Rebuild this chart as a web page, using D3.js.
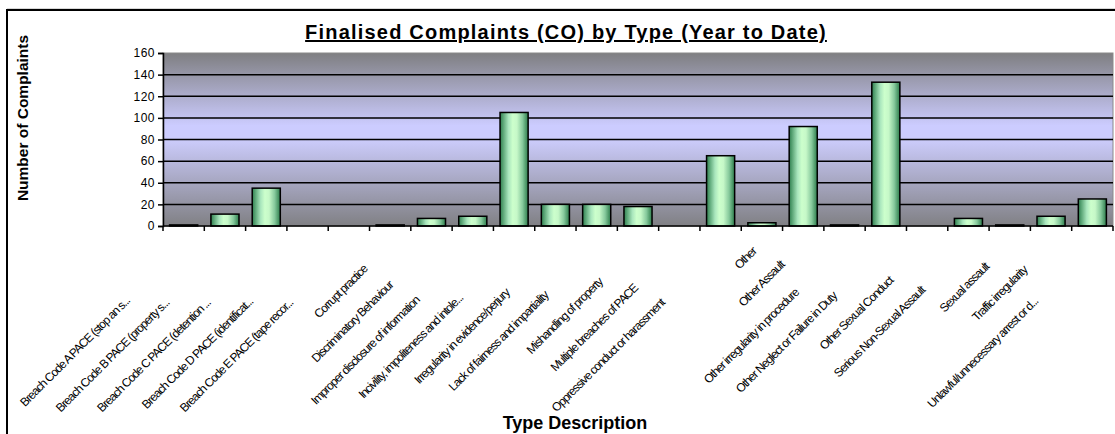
<!DOCTYPE html>
<html>
<head>
<meta charset="utf-8">
<script src="https://cdn.jsdelivr.net/npm/d3@7"></script>
<style>
  html, body { margin: 0; padding: 0; background: #fff; }
  svg { display: block; font-family: "Liberation Sans", Arial, sans-serif; }
</style>
</head>
<body>
<svg id="chart" width="1115" height="434"></svg>
<script>
const categories = [
  "Breach Code A PACE (stop an s...",
  "Breach Code B PACE (property s...",
  "Breach Code C PACE (detention ...",
  "Breach Code D PACE (identificat...",
  "Breach Code E PACE (tape recor...",
  "Corrupt practice",
  "Discriminatory Behaviour",
  "Improper disclosure of information",
  "Incivility, impoliteness and intole...",
  "Irregularity in evidence/perjury",
  "Lack of fairness and impartiality",
  "Mishandling of property",
  "Multiple breaches of PACE",
  "Oppressive conduct or harassment",
  "Other",
  "Other Assault",
  "Other irregularity in procedure",
  "Other Neglect or Failure in Duty",
  "Other Sexual Conduct",
  "Serious Non-Sexual Assault",
  "Sexual assault",
  "Traffic irregularity",
  "Unlawful/unnecessary arrest or d..."
];
const complaints = [1, 11, 35, 0, 0, 1, 7, 9, 105, 20, 20, 18, 0, 65, 3, 92, 1, 133, 0, 7, 1, 9, 25];
const yTicks = [0, 20, 40, 60, 80, 100, 120, 140, 160];
const titleText = "Finalised Complaints (CO) by Type (Year to Date)";
const yTitle = "Number of Complaints";
const xTitle = "Type Description";

const svg = d3.select("#chart");
const plot = { left: 163, right: 1113, top: 53, bottom: 226 };

const x = d3.scaleBand().domain(categories).range([plot.left, plot.right])
  .paddingInner(0.32).paddingOuter(0.16);
const y = d3.scaleLinear().domain([0, 160]).range([plot.bottom, plot.top]);

const defs = svg.append("defs");
const bg = defs.append("linearGradient").attr("id", "bgGrad")
  .attr("x1", 0).attr("y1", 0).attr("x2", 0).attr("y2", 1);
[[0, "#7f7f82"], [0.42, "#ccccff"], [0.5, "#ccccfc"], [1, "#808084"]].forEach(([o, c]) =>
  bg.append("stop").attr("offset", o).attr("stop-color", c));
const bar = defs.append("linearGradient").attr("id", "barGrad")
  .attr("x1", 0).attr("y1", 0).attr("x2", 1).attr("y2", 0);
[[0, "#2f7f4f"], [0.12, "#5fa97a"], [0.3, "#a9e6bd"], [0.45, "#ccffcc"], [0.6, "#c6f8c8"],
 [0.8, "#86c99c"], [0.92, "#4f9a6a"], [1, "#2f7f4f"]].forEach(([o, c]) =>
  bar.append("stop").attr("offset", o).attr("stop-color", c));

// outer chart border
svg.append("line").attr("x1", 7).attr("x2", 1115).attr("y1", 9).attr("y2", 9)
  .attr("stroke", "#b0b0b0").attr("stroke-width", 1);
svg.append("rect").attr("x", 7).attr("y", 10).attr("width", 1120).attr("height", 440)
  .attr("fill", "none").attr("stroke", "#000").attr("stroke-width", 2);

// title
svg.append("text").attr("x", 566).attr("y", 39)
  .attr("text-anchor", "middle").attr("font-size", 20).attr("font-weight", "bold")
  .attr("letter-spacing", 1.2)
  .attr("text-decoration", "underline").text(titleText);

// plot background
svg.append("rect").attr("x", plot.left).attr("y", plot.top)
  .attr("width", plot.right - plot.left).attr("height", plot.bottom - plot.top)
  .attr("fill", "url(#bgGrad)").attr("stroke", "#8a8a8a").attr("stroke-width", 1);

// gridlines
svg.append("g").selectAll("line").data(yTicks.filter(d => d > 0 && d < 160)).join("line")
  .attr("x1", plot.left).attr("x2", plot.right)
  .attr("y1", d => y(d)).attr("y2", d => y(d))
  .attr("stroke", "#000").attr("stroke-width", 1.5);

// bars
svg.append("g").selectAll("rect").data(categories.map((c, i) => ({ c, v: complaints[i] })).filter(d => d.v > 0))
  .join("rect")
  .attr("x", d => x(d.c)).attr("width", x.bandwidth())
  .attr("y", d => y(d.v)).attr("height", d => y(0) - y(d.v))
  .attr("fill", "url(#barGrad)").attr("stroke", "#000").attr("stroke-width", 1.5);

// y axis
const yAxis = svg.append("g").attr("transform", `translate(${plot.left},0)`)
  .call(d3.axisLeft(y).tickValues(yTicks).tickSize(5).tickPadding(3));
yAxis.select(".domain").attr("stroke-width", 1.5);
yAxis.selectAll(".tick line").attr("stroke-width", 1.5);
yAxis.selectAll("text").attr("font-size", 12).attr("letter-spacing", 0.5).attr("fill", "#000")
  .attr("font-family", "Liberation Sans, Arial, sans-serif");

// x axis with ticks at category boundaries
const step = x.step();
const bounds = d3.range(categories.length + 1).map(i => plot.left + i * step);
svg.append("line").attr("x1", plot.left).attr("x2", plot.right)
  .attr("y1", plot.bottom).attr("y2", plot.bottom).attr("stroke", "#000").attr("stroke-width", 1.5);
svg.append("g").selectAll("line").data(bounds).join("line")
  .attr("x1", d => d).attr("x2", d => d).attr("y1", plot.bottom).attr("y2", plot.bottom + 5)
  .attr("stroke", "#000").attr("stroke-width", 1.5);

// x labels (rotated)
const lab = svg.append("g").selectAll("text").data(categories).join("text")
  .attr("font-size", 12).attr("letter-spacing", -1.0).attr("text-anchor", "end")
  .text(d => d);
lab.each(function (d) {
  const L = this.getComputedTextLength();
  const cx = x(d) + x.bandwidth() / 2;
  const ex = cx + 5 - 0.39 * L;
  const ey = plot.bottom + 16 + 0.4 * L;
  d3.select(this).attr("transform", `translate(${ex},${ey}) rotate(-45)`);
});

// axis titles
svg.append("text").attr("transform", "translate(28,118) rotate(-90)")
  .attr("text-anchor", "middle").attr("font-size", 15.5).attr("font-weight", "bold").text(yTitle);
svg.append("text").attr("x", 575).attr("y", 429)
  .attr("text-anchor", "middle").attr("font-size", 18).attr("font-weight", "bold").text(xTitle);
</script>
</body>
</html>
